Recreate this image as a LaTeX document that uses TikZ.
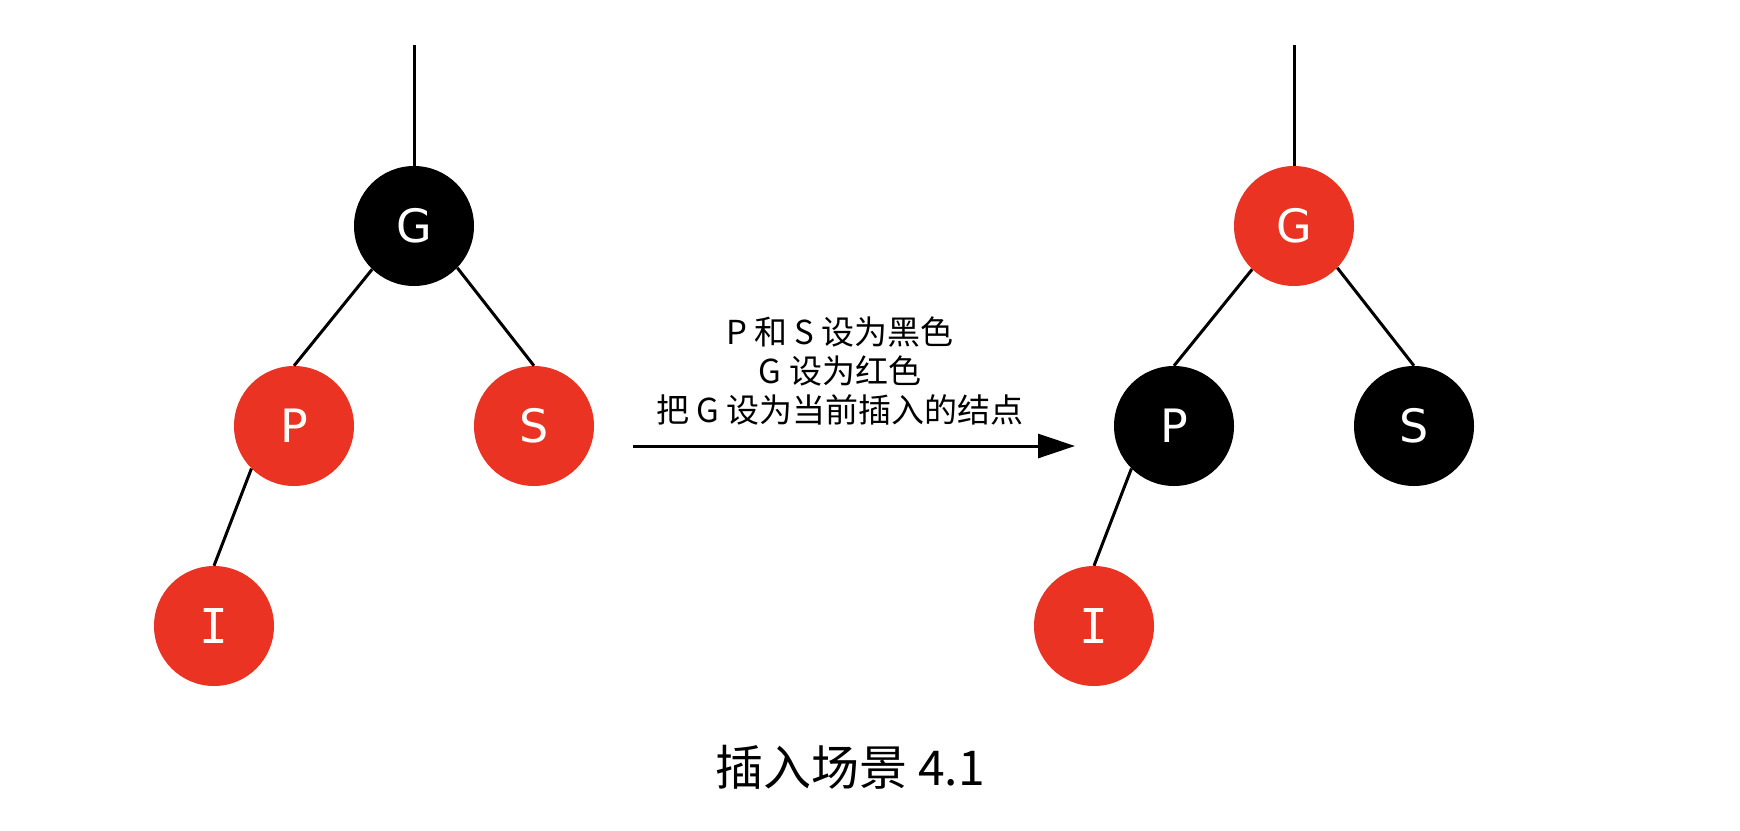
\documentclass[tikz,border=0pt]{standalone}
\usepackage{fontspec}
\setmainfont{DejaVu Sans}
\newfontfamily\cjk{Noto Sans CJK SC}
\newfontfamily\monoI{DejaVu Sans Mono}
\usetikzlibrary{arrows.meta}
\definecolor{rbred}{RGB}{234,51,35}
\tikzset{
  rbnode/.style={circle, minimum size=120pt, inner sep=0pt, text=white, font=\fontsize{46}{46}\selectfont},
  rednode/.style={rbnode, fill=rbred},
  blknode/.style={rbnode, fill=black},
  edge/.style={draw=black, line width=3pt},
}
\begin{document}
\begin{tikzpicture}[x=1pt,y=-1pt]
\useasboundingbox[fill=white] (0,0) rectangle (1740,830);
% left tree
\node[blknode] (G1) at (414,226) {G};
\node[rednode] (P1) at (294,426) {P};
\node[rednode] (S1) at (534,426) {S};
\node[rednode, font=\monoI\fontsize{48}{48}\selectfont] (I1) at (214,626) {I};
\coordinate (T1) at (414,45);
\draw[edge] (T1) -- (G1.north);
\draw[edge] (G1.226) -- (P1.north);
\draw[edge] (G1.316) -- (S1.north);
\draw[edge] (P1.225) -- (I1.north);
% right tree
\node[rednode] (G2) at (1294,226) {G};
\node[blknode] (P2) at (1174,426) {P};
\node[blknode] (S2) at (1414,426) {S};
\node[rednode, font=\monoI\fontsize{48}{48}\selectfont] (I2) at (1094,626) {I};
\coordinate (T2) at (1294,45);
\draw[edge] (T2) -- (G2.north);
\draw[edge] (G2.226) -- (P2.north);
\draw[edge] (G2.316) -- (S2.north);
\draw[edge] (P2.225) -- (I2.north);
% arrow
\coordinate (A1) at (633,446);
\coordinate (A2) at (1075,446);
\draw[line width=3pt, -{Triangle[length=37pt,width=24pt]}] (A1) -- (A2);
\node[align=center, font=\cjk\fontsize{33}{39}\selectfont, inner sep=0pt] (txt) at (840,371)
  {P 和 S 设为黑色\\G 设为红色\\把 G 设为当前插入的结点};
% caption
\node[font=\cjk\fontsize{48}{48}\selectfont, inner sep=0pt] (cap) at (850,767) {插入场景 4.1};
\end{tikzpicture}
\end{document}
